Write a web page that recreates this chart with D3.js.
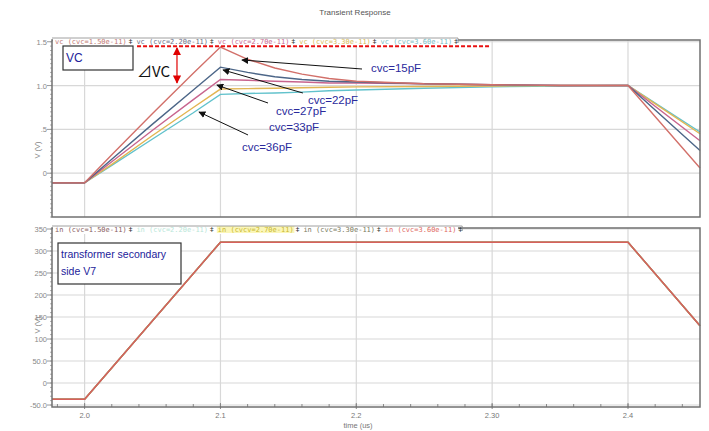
<!DOCTYPE html>
<html><head><meta charset="utf-8">
<script src="https://cdn.jsdelivr.net/npm/d3@7"></script>
<style>body{margin:0;background:#fff;}svg{display:block;font-family:"Liberation Sans",Arial,sans-serif;}</style>
</head><body>
<svg id="c" width="709" height="431"></svg>
<script>
// ---------------- data ----------------
const title = "Transient Response";
const xTicks = [2.0, 2.1, 2.2, 2.3, 2.4];
const xTickLabels = ["2.0", "2.1", "2.2", "2.30", "2.4"];
const topYTicks = [1.5, 1.0, 0.5, 0];
const topYTickLabels = ["1.5", "1.0", ".5", "0"];
const botYTicks = [350, 300, 250, 200, 150, 100, 50, 0, -50];
const botYTickLabels = ["350", "300", "250", "200", "150", "100", "50.0", "0", "-50.0"];

const topLegend = ["vc (cvc=1.50e-11)", "vc (cvc=2.20e-11)", "vc (cvc=2.70e-11)", "vc (cvc=3.30e-11)", "vc (cvc=3.60e-11)"];
const botLegend = ["in (cvc=1.50e-11)", "in (cvc=2.20e-11)", "in (cvcv=2.70e-11)", "in (cvc=3.30e-11)", "in (cvc=3.60e-11)"];

const timeTop = [1.976, 2.0, 2.02, 2.05, 2.08, 2.1, 2.12, 2.14, 2.16, 2.18, 2.2, 2.25, 2.3, 2.35, 2.4, 2.453];
const vc15 = [-0.11, -0.11, 0.21, 0.68, 1.14, 1.44, 1.30, 1.20, 1.13, 1.08, 1.05, 1.02, 1.01, 1.00, 1.00, 0.06];
const vc22 = [-0.11, -0.11, 0.16, 0.56, 0.95, 1.21, 1.15, 1.10, 1.07, 1.05, 1.04, 1.02, 1.01, 1.00, 1.00, 0.26];
const vc27 = [-0.11, -0.11, 0.13, 0.49, 0.84, 1.07, 1.06, 1.05, 1.04, 1.03, 1.03, 1.02, 1.01, 1.00, 1.00, 0.37];
const vc33 = [-0.11, -0.11, 0.10, 0.43, 0.75, 0.96, 0.965, 0.97, 0.975, 0.98, 0.985, 0.99, 0.995, 1.00, 1.00, 0.45];
const vc36 = [-0.11, -0.11, 0.09, 0.39, 0.69, 0.90, 0.91, 0.915, 0.925, 0.94, 0.95, 0.97, 0.985, 0.995, 1.00, 0.47];

const timeBot = [1.976, 2.0, 2.1, 2.4, 2.453];
const in15 = [-37, -37, 320, 320, 130];
const in22 = [-37, -37, 320, 320, 130];
const in27 = [-37, -37, 320, 320, 130];
const in33 = [-37, -37, 320, 320, 130];
const in36 = [-37, -37, 320, 320, 130];

const topColors = ["#d2706a", "#4c6688", "#c8648e", "#e2b552", "#62c2cc"];
const topLegendColors = ["#c27a74", "#6a6e86", "#c86a92", "#d8bc5a", "#78bcc4"];
const botColors = ["#9a8a8a", "#a8e0d0", "#e6d860", "#8a8a70", "#d8605c"];
const botLegendColors = ["#8a6060", "#b8e6d8", "#c8b830", "#7a7a60", "#e06a62"];

// annotations (data coordinates)
const capLabels = [
  {text: "cvc=15pF", lt: 2.2108, lv: 1.155, tip: [2.1158, 1.292], tail: [2.2042, 1.189]},
  {text: "cvc=22pF", lt: 2.1644, lv: 0.790, tip: [2.1019, 1.178], tail: [2.1607, 0.915]},
  {text: "cvc=27pF", lt: 2.1409, lv: 0.664, tip: [2.0974, 1.006], tail: [2.1350, 0.801]},
  {text: "cvc=33pF", lt: 2.1357, lv: 0.481, tip: null, tail: null},
  {text: "cvc=36pF", lt: 2.1158, lv: 0.253, tip: [2.0842, 0.698], tail: [2.1203, 0.436]}
];

// ---------------- layout ----------------
const svg = d3.select("#c");
const L = 52, R = 700;
const x = d3.scaleLinear().domain([1.976, 2.453]).range([L, R]);
const yT = d3.scaleLinear().domain([-0.5, 1.52]).range([217, 40]);
const yB = d3.scaleLinear().domain([-54.5, 352.3]).range([407, 228]);

const defs = svg.append("defs");
function marker(id, color) {
  defs.append("marker").attr("id", id).attr("viewBox", "0 0 10 10").attr("refX", 9).attr("refY", 5)
    .attr("markerWidth", 7).attr("markerHeight", 7).attr("orient", "auto-start-reverse")
    .append("path").attr("d", "M0,0 L10,5 L0,10 z").attr("fill", color);
}
marker("ak", "#111");
marker("ar", "#e00000");

svg.append("text").attr("x", 355).attr("y", 15).attr("text-anchor", "middle")
  .attr("font-size", 8).attr("fill", "#555").text(title);

function panel(y, yTicks, yLabels, minorStep, yDom) {
  const g = svg.append("g");
  const [y0, y1] = y.range();
  g.selectAll(".vg").data(xTicks).join("line").attr("x1", d => x(d)).attr("x2", d => x(d))
    .attr("y1", y1).attr("y2", y0).attr("stroke", "#d8d8d8").attr("stroke-width", 1.2);
  g.selectAll(".hg").data(yTicks).join("line").attr("x1", L).attr("x2", R)
    .attr("y1", d => y(d)).attr("y2", d => y(d)).attr("stroke", "#d8d8d8").attr("stroke-width", 1.2);
  const minors = d3.range(yDom[0], yDom[1] + 1e-9, minorStep);
  g.selectAll(".mt").data(minors).join("line").attr("x1", L - 2).attr("x2", L)
    .attr("y1", d => y(d)).attr("y2", d => y(d)).attr("stroke", "#999").attr("stroke-width", 0.8);
  g.selectAll(".Mt").data(yTicks).join("line").attr("x1", L - 5).attr("x2", L)
    .attr("y1", d => y(d)).attr("y2", d => y(d)).attr("stroke", "#999").attr("stroke-width", 1);
  g.selectAll(".yl").data(yTicks).join("text").attr("x", L - 5).attr("y", d => y(d) + 3)
    .attr("text-anchor", "end").attr("font-size", 7.5).attr("fill", "#888")
    .text((d, i) => yLabels[i]);
  return g;
}
panel(yT, topYTicks, topYTickLabels, 0.05, [-0.5, 1.5]);
panel(yB, botYTicks, botYTickLabels, 10, [-50, 350]);

[[yT, 150], [yB, 325]].forEach(([s, cy]) => {
  svg.append("text").attr("transform", `translate(40,${cy}) rotate(-90)`).attr("text-anchor", "middle")
    .attr("font-size", 7.5).attr("fill", "#888").text("V (V)");
});

const xMinor = d3.range(1.98, 2.4501, 0.02);
svg.selectAll(".xm").data(xMinor).join("line").attr("x1", d => x(d)).attr("x2", d => x(d))
  .attr("y1", 407).attr("y2", 404).attr("stroke", "#888");
svg.selectAll(".xM").data(xTicks).join("line").attr("x1", d => x(d)).attr("x2", d => x(d))
  .attr("y1", 409).attr("y2", 403).attr("stroke", "#888");
svg.selectAll(".xl").data(xTicks).join("text").attr("x", d => x(d)).attr("y", 418)
  .attr("text-anchor", "middle").attr("font-size", 7.5).attr("fill", "#777").text((d, i) => xTickLabels[i]);
svg.append("text").attr("x", 358).attr("y", 428).attr("text-anchor", "middle")
  .attr("font-size", 7.5).attr("fill", "#777").text("time (us)");

const lineT = d3.line().x(d => x(d[0])).y(d => yT(d[1]));
const lineB = d3.line().x(d => x(d[0])).y(d => yB(d[1]));
const topSeries = [vc36, vc33, vc27, vc22, vc15];
const topSeriesColors = [topColors[4], topColors[3], topColors[2], topColors[1], topColors[0]];
topSeries.forEach((s, i) => {
  svg.append("path").datum(timeTop.map((t, j) => [t, s[j]])).attr("d", lineT)
    .attr("fill", "none").attr("stroke", topSeriesColors[i]).attr("stroke-width", 1.4);
});
[in15, in22, in27, in33, in36].forEach((s, i) => {
  svg.append("path").datum(timeBot.map((t, j) => [t, s[j]])).attr("d", lineB)
    .attr("fill", "none").attr("stroke", botColors[i]).attr("stroke-width", 1.4);
});

svg.append("rect").attr("x", L).attr("y", 40).attr("width", R - L).attr("height", 177)
  .attr("fill", "none").attr("stroke", "#707070").attr("stroke-width", 1.5);
svg.append("rect").attr("x", L).attr("y", 228).attr("width", R - L).attr("height", 179)
  .attr("fill", "none").attr("stroke", "#707070").attr("stroke-width", 1.5);

function legend(items, colors, y0, bg) {
  const g = svg.append("g");
  g.append("rect").attr("x", L + 1).attr("y", y0 - 6).attr("width", 405).attr("height", 8).attr("fill", "#fff");
  let xx = L + 3;
  items.forEach((t, i) => {
    const w = t.length * 4.2;
    if (bg && bg[i]) g.append("rect").attr("x", xx - 1).attr("y", y0 - 6).attr("width", w + 2).attr("height", 7).attr("fill", bg[i]);
    g.append("text").attr("x", xx).attr("y", y0).attr("font-family", "DejaVu Sans Mono, monospace")
      .attr("font-size", 7).attr("fill", colors[i]).text(t);
    xx += w + 2;
    g.append("text").attr("x", xx).attr("y", y0).attr("font-size", 7).attr("fill", "#333").text("ǂ");
    xx += 8;
  });
  g.append("path").attr("d", `M${L},${y0 - 6} H${xx - 4} V${y0 - 1}`).attr("fill", "none")
    .attr("stroke", "#888").attr("stroke-width", 0.8);
}
legend(topLegend, topLegendColors, 44, null);
legend(botLegend, botLegendColors, 232, [null, null, "#fbf6b8", null, null]);

svg.append("line").attr("x1", x(2.0386)).attr("x2", x(2.2984)).attr("y1", yT(1.448)).attr("y2", yT(1.448))
  .attr("stroke", "#e81010").attr("stroke-width", 2).attr("stroke-dasharray", "4,2");
svg.append("line").attr("x1", x(2.068)).attr("x2", x(2.068)).attr("y1", yT(1.43)).attr("y2", yT(1.03))
  .attr("stroke", "#e00000").attr("stroke-width", 1.2)
  .attr("marker-start", "url(#ar)").attr("marker-end", "url(#ar)");
svg.append("text").attr("x", 137).attr("y", 77).attr("font-size", 15)
  .attr("font-family", "'Noto Sans CJK JP', 'Noto Sans CJK SC', sans-serif").attr("fill", "#111").text("⊿VC");

svg.append("rect").attr("x", 63).attr("y", 46).attr("width", 70).attr("height", 24)
  .attr("fill", "#fff").attr("stroke", "#333").attr("stroke-width", 1.2);
svg.append("text").attr("x", 66).attr("y", 62).attr("font-size", 12).attr("fill", "#22229a").text("VC");

svg.append("rect").attr("x", 58).attr("y", 243).attr("width", 123).attr("height", 41)
  .attr("fill", "#fff").attr("stroke", "#333").attr("stroke-width", 1.2);
svg.append("text").attr("x", 61).attr("y", 258).attr("font-size", 10.5).attr("fill", "#22229a").text("transformer secondary");
svg.append("text").attr("x", 61).attr("y", 275).attr("font-size", 10.5).attr("fill", "#22229a").text("side V7");

capLabels.forEach(c => {
  if (c.tip) {
    svg.append("line").attr("x1", x(c.tail[0])).attr("y1", yT(c.tail[1]))
      .attr("x2", x(c.tip[0])).attr("y2", yT(c.tip[1]))
      .attr("stroke", "#111").attr("stroke-width", 1).attr("marker-end", "url(#ak)");
  }
  svg.append("text").attr("x", x(c.lt)).attr("y", yT(c.lv)).attr("font-size", 11.5)
    .attr("fill", "#2a2a9c").text(c.text);
});
</script>
</body></html>
